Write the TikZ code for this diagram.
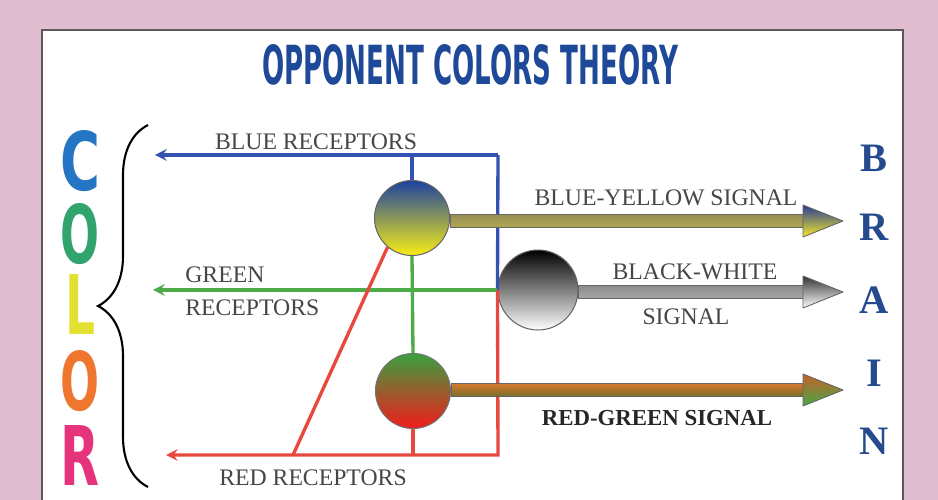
\documentclass[tikz,border=0pt]{standalone}
\usepackage{fontspec}
\setmainfont{Liberation Serif}
\newfontfamily\heavyfont{DejaVu Sans}
\usepackage{graphicx}
\usetikzlibrary{calc, positioning, decorations.pathreplacing}

\definecolor{framepink}{RGB}{224,190,208}
\definecolor{titleblue}{RGB}{30,72,152}
\definecolor{brainblue}{RGB}{38,74,142}
\definecolor{recblue}{RGB}{52,82,178}
\definecolor{recgreen}{RGB}{78,172,72}
\definecolor{recred}{RGB}{232,72,62}
\definecolor{labelgray}{RGB}{70,70,70}
% colours of the word COLOR
\definecolor{colC}{RGB}{36,118,196}
\definecolor{colO}{RGB}{48,164,108}
\definecolor{colL}{RGB}{226,224,48}
\definecolor{colOr}{RGB}{238,118,46}
\definecolor{colR}{RGB}{230,52,124}

\tikzset{
  % Set arrowhead
  >=stealth,
  % receptor lines
  rec/.style={line width=1.9pt},
  bluerec/.style={rec, recblue},
  greenrec/.style={rec, recgreen},
  redrec/.style={rec, recred},
  % opponent cells
  cell/.style={draw=black!60, shape=circle, line width=0.6pt,
    minimum size=1.5cm, inner sep=0pt},
  % signal arrows
  shaft/.style={draw=black!60, line width=0.5pt},
  head/.style={draw=black!60, line width=0.5pt, line join=round},
  % texts
  lbl/.style={font=\fontsize{13.5}{16}\selectfont, text=labelgray, inner sep=0pt},
  brain/.style={font=\fontsize{23}{23}\selectfont\bfseries, text=brainblue,
    inner sep=0pt},
  headline/.style={font=\heavyfont\bfseries\fontsize{32}{32}\selectfont,
    text=titleblue, inner sep=0pt},
  colorletter/.style={font=\heavyfont\bfseries\fontsize{48}{48}\selectfont,
    inner sep=0pt},
  curly/.style={decorate, decoration={brace, amplitude=1cm}, line width=1.2pt},
}

% signal arrow: start, tip, shaft colours, head colours
\newcommand{\signal}[4]{%
  \path[shaft, #3] ($(#1)+(0,-6.5)$) rectangle ($(#2)+(-40,6.5)$);
  \path[head, #4] ($(#2)+(-40,-16)$) -- (#2) -- ($(#2)+(-40,16)$) -- cycle;}

\begin{document}
\begin{tikzpicture}[x=0.02cm, y=-0.02cm]
  \useasboundingbox (0,0) rectangle (938,500);
  \fill[framepink] (0,0) rectangle (938,500);
  \fill[white] (42,30) rectangle (903,500);
  \draw[black!65, line width=1pt] (42,500) -- (42,30) -- (903,30) -- (903,500);

  \node[headline] (title) at (470,65)
    {\resizebox{8.32cm}{0.8cm}{OPPONENT COLORS THEORY}};

  % COLOR and BRAIN
  \foreach \ch/\yy/\col/\lw [count=\i] in
    {C/161/colC/0.80, O/234/colO/0.78, L/305/colL/0.60,
     O/381/colOr/0.78, R/456/colR/0.78}
    \node[colorletter, text=\col] (col\i) at (80,\yy)
      {\resizebox{\lw cm}{1.2cm}{\ch}};
  \foreach \ch/\yy [count=\i] in {B/158, R/227, A/300, I/373, N/441}
    \node[brain] (brain\i) at (874,\yy) {\ch};

  \draw[curly] (148,487) -- (148,125);

  % opponent cells
  \node[cell, top color={rgb,255:red,28;green,66;blue,160},
    middle color={rgb,255:red,190;green,182;blue,70},
    bottom color={rgb,255:red,248;green,238;blue,20}] (by) at (412,218) {};
  \node[cell, minimum size=1.6cm, top color=black, middle color=black!30,
    bottom color=white] (bw) at (538,290) {};
  \node[cell, draw=black!55, top color={rgb,255:red,58;green,160;blue,62},
    middle color={rgb,255:red,228;green,122;blue,40},
    bottom color={rgb,255:red,242;green,28;blue,28}] (rg) at (413,391) {};

  \coordinate (bluetip) at (155,155);
  \coordinate (bluecorner) at (498,155);
  \coordinate (greentip) at (153,290);
  \coordinate (redtip) at (166,455);
  \coordinate (redcorner) at (498,455);
  \coordinate (redfoot) at (293,455);

  % receptors
  \draw[bluerec, ->] (bluecorner) -- (bluetip);
  \draw[bluerec] (bluecorner) -- (bw.west);
  \draw[bluerec] (by.north) -- (by.north |- bluetip);
  \draw[greenrec, ->] (bw.west) -- (greentip);
  \draw[greenrec] (by.south) -- (rg.north);
  \draw[redrec, ->] (bw.west) -- (redcorner) -- (redtip);
  \draw[redrec] (rg.south) -- (rg.south |- redtip);
  \draw[redrec] (redfoot) -- (by.230);

  % signals
  \coordinate (bytip) at (843,221);
  \coordinate (bwtip) at (843,292);
  \coordinate (rgtip) at (843,390);
  \signal{by.east |- bytip}{bytip}
    {top color={rgb,255:red,150;green,142;blue,84},
     middle color={rgb,255:red,238;green,228;blue,70},
     bottom color={rgb,255:red,176;green,168;blue,80}}
    {top color={rgb,255:red,40;green,60;blue,150},
     bottom color={rgb,255:red,245;green,232;blue,40}}
  \signal{bw.east |- bwtip}{bwtip}
    {top color=black!45, middle color=black!8, bottom color=black!35}
    {top color=black!80, bottom color=white}
  \signal{rg.east |- rgtip}{rgtip}
    {top color={rgb,255:red,214;green,120;blue,48},
     middle color={rgb,255:red,140;green,104;blue,36},
     bottom color={rgb,255:red,120;green,110;blue,40}}
    {top color={rgb,255:red,196;green,96;blue,42},
     bottom color={rgb,255:red,70;green,168;blue,70}}

  % labels
  \node[lbl] (bluelbl) at (316,142) {BLUE RECEPTORS};
  \node[lbl, anchor=west] (greenlbl) at (185,275) {GREEN};
  \node[lbl, anchor=west] (greenlbl2) at (185,308) {RECEPTORS};
  \node[lbl] (redlbl) at (313,478) {RED RECEPTORS};
  \node[lbl] (bylbl) at (666,198) {BLUE-YELLOW SIGNAL};
  \node[lbl] (bwlbl) at (695,272) {BLACK-WHITE};
  \node[lbl] (bwlbl2) at (686,317) {SIGNAL};
  \node[lbl, font=\fontsize{13}{16}\selectfont\bfseries, text=black!85]
    (rglbl) at (657,418) {RED-GREEN SIGNAL};
\end{tikzpicture}
\end{document}
